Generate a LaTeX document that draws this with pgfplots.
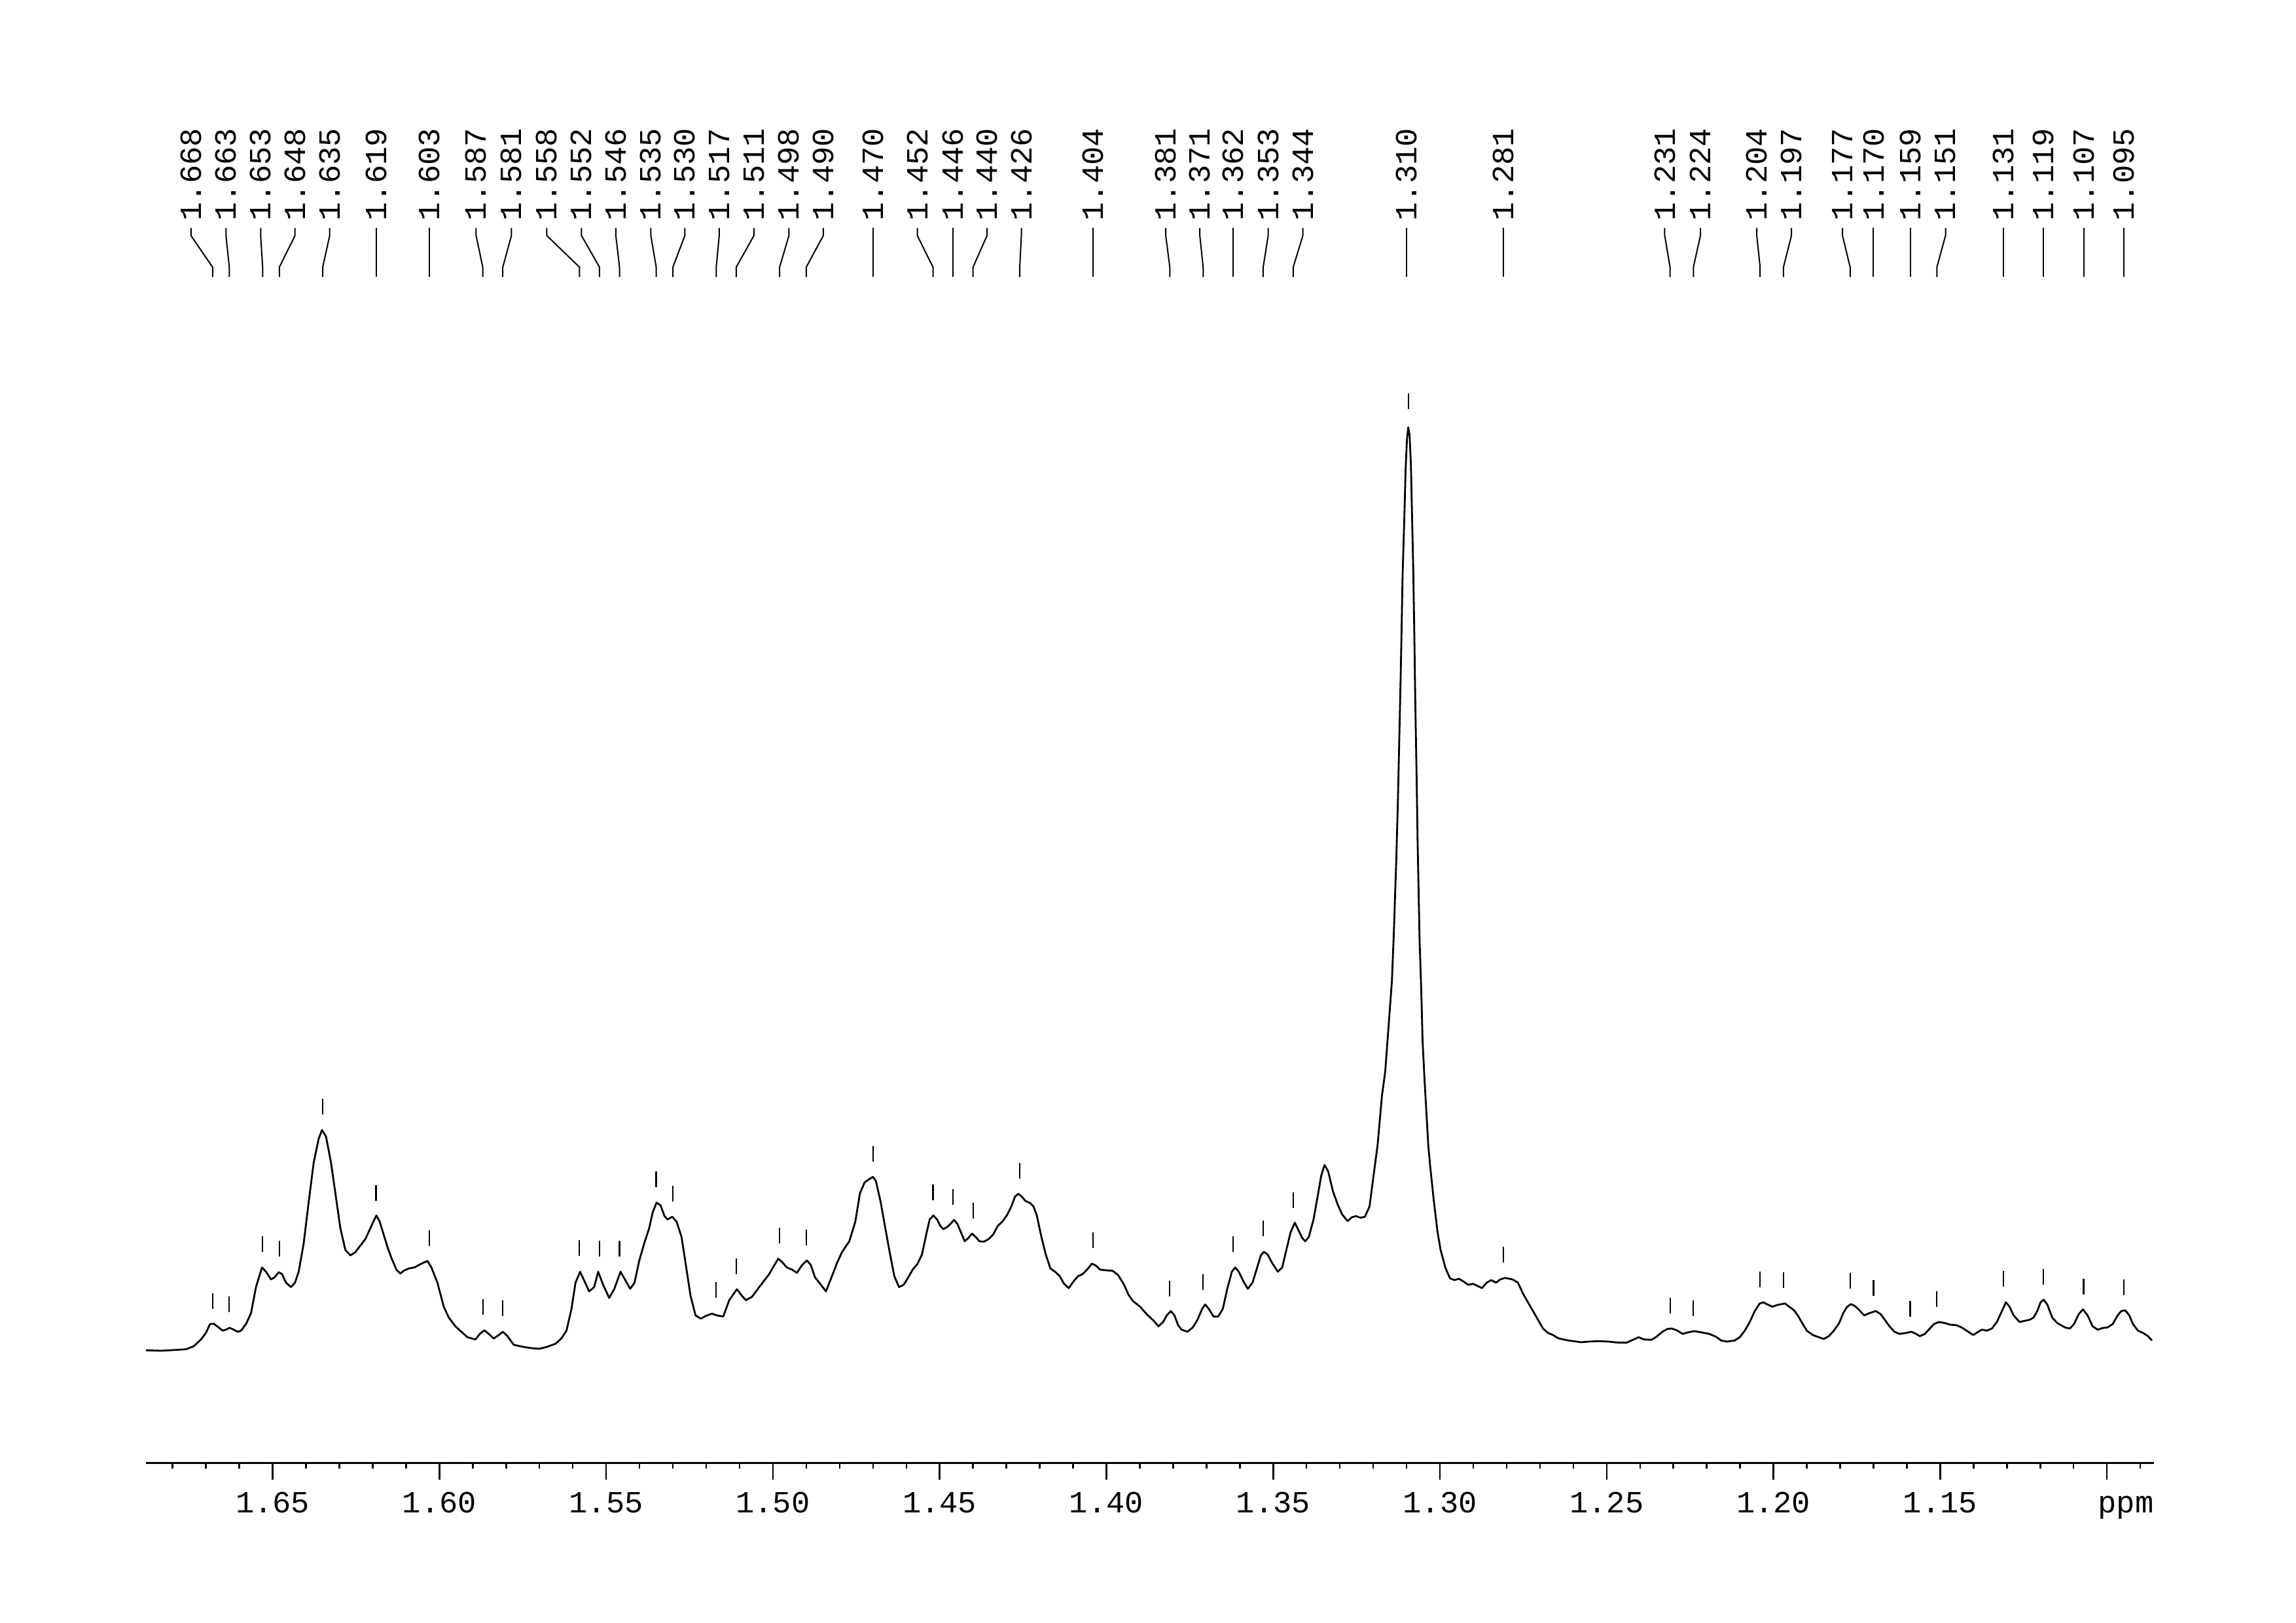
\documentclass[border=0pt]{standalone}
\usepackage{pgfplots}
\pgfplotsset{compat=1.18}
\usepackage{fontspec}
\newfontfamily\mono{Liberation Mono}
\newcommand\lblfont{\mono\fontsize{13.4pt}{16pt}\selectfont}
\tikzset{
  lbl/.style={rotate=90, anchor=west, inner sep=0pt, font=\lblfont},
  conn/.style={black, line width=0.2mm},
}
\begin{document}
\begin{tikzpicture}
\path[use as bounding box] (0,0) rectangle (350.8mm,247.9mm);
\begin{axis}[
  at={(22.3mm,24.4mm)}, anchor=south west,
  scale only axis, width=306.8mm, height=208.5mm,
  xmin=1.0859, xmax=1.6880, ymin=0, ymax=2085,
  x dir=reverse,
  axis x line=bottom, axis y line=none,
  axis line style={-, black, line width=0.3mm},
  xtick={1.10,1.15,1.20,1.25,1.30,1.35,1.40,1.45,1.50,1.55,1.60,1.65},
  xticklabels={,1.15,1.20,1.25,1.30,1.35,1.40,1.45,1.50,1.55,1.60,1.65},
  minor xtick={1.09,1.11,1.12,1.13,1.14,1.16,1.17,1.18,1.19,1.21,1.22,1.23,1.24,1.26,1.27,1.28,1.29,1.31,1.32,1.33,1.34,1.36,1.37,1.38,1.39,1.41,1.42,1.43,1.44,1.46,1.47,1.48,1.49,1.51,1.52,1.53,1.54,1.56,1.57,1.58,1.59,1.61,1.62,1.63,1.64,1.66,1.67,1.68},
  tick align=outside,
  major tick length=2.55mm, minor tick length=0.93mm,
  tick style={black, line width=0.25mm},
  xticklabel style={font=\lblfont, anchor=base, yshift=-5.12mm},
  clip=false,
]
% spectrum
\addplot[black, line width=0.28mm, mark=none, line join=round] coordinates {
(1.6880,171.7)(1.6835,171.0)(1.6790,172.3)(1.6760,173.3)(1.6737,177.7)(1.6715,188.3)(1.6700,198.3)(1.6688,211.7)(1.6677,212.3)(1.6662,206.7)(1.6650,201.7)(1.6640,203.3)(1.6629,206.0)(1.6617,203.3)(1.6605,200.0)(1.6595,201.7)(1.6580,211.7)(1.6565,228.3)(1.6550,268.3)(1.6532,298.3)(1.6520,291.7)(1.6505,280.0)(1.6494,283.3)(1.6482,291.0)(1.6472,288.3)(1.6460,275.0)(1.6445,268.3)(1.6433,275.0)(1.6422,291.7)(1.6407,335.0)(1.6392,398.3)(1.6377,458.3)(1.6362,495.0)(1.6352,508.3)(1.6340,498.3)(1.6325,458.3)(1.6312,411.7)(1.6297,358.3)(1.6282,325.0)(1.6267,316.7)(1.6252,321.7)(1.6237,331.7)(1.6222,341.7)(1.6207,358.3)(1.6198,368.3)(1.6189,377.7)(1.6179,368.3)(1.6167,348.3)(1.6155,328.3)(1.6143,311.7)(1.6129,295.0)(1.6117,289.0)(1.6107,293.3)(1.6092,296.7)(1.6075,298.3)(1.6057,303.3)(1.6036,308.3)(1.6024,298.3)(1.6006,275.0)(1.5987,238.3)(1.5972,221.7)(1.5952,208.3)(1.5934,200.0)(1.5916,191.7)(1.5892,188.3)(1.5879,196.7)(1.5865,202.3)(1.5852,196.7)(1.5837,189.7)(1.5822,195.0)(1.5810,200.0)(1.5796,193.3)(1.5777,180.0)(1.5746,176.7)(1.5724,175.0)(1.5701,174.0)(1.5679,176.7)(1.5652,181.7)(1.5634,190.0)(1.5619,201.7)(1.5604,235.0)(1.5592,275.0)(1.5578,291.7)(1.5566,278.3)(1.5551,261.7)(1.5536,268.3)(1.5524,291.7)(1.5509,271.7)(1.5491,251.7)(1.5476,265.0)(1.5457,291.7)(1.5442,278.3)(1.5428,265.7)(1.5415,275.0)(1.5401,308.3)(1.5386,335.0)(1.5371,358.3)(1.5361,381.7)(1.5349,397.3)(1.5337,393.3)(1.5325,376.7)(1.5316,371.7)(1.5302,375.7)(1.5289,368.3)(1.5274,345.0)(1.5262,305.0)(1.5247,255.0)(1.5232,225.0)(1.5216,220.0)(1.5201,224.3)(1.5183,227.7)(1.5168,225.0)(1.5149,223.3)(1.5131,248.3)(1.5108,265.0)(1.5093,255.0)(1.5081,248.3)(1.5063,253.3)(1.5041,268.3)(1.5026,278.3)(1.5011,288.3)(1.5000,298.3)(1.4984,311.7)(1.4973,306.7)(1.4958,298.3)(1.4943,295.0)(1.4928,290.0)(1.4913,301.7)(1.4898,309.0)(1.4886,301.7)(1.4874,283.3)(1.4861,275.0)(1.4841,261.7)(1.4823,285.0)(1.4808,305.0)(1.4793,321.7)(1.4771,338.3)
(1.4753,368.3)(1.4739,411.7)(1.4725,428.3)(1.4711,433.3)(1.4700,436.7)(1.4691,430.0)(1.4677,398.3)(1.4663,358.3)(1.4650,321.7)(1.4636,285.0)(1.4622,268.3)(1.4608,271.7)(1.4594,283.3)(1.4581,295.0)(1.4567,303.3)(1.4553,318.3)(1.4539,351.7)(1.4530,371.7)(1.4519,377.7)(1.4508,371.7)(1.4498,361.7)(1.4489,356.7)(1.4478,360.0)(1.4467,365.0)(1.4457,371.0)(1.4447,365.0)(1.4436,351.7)(1.4425,338.3)(1.4414,343.3)(1.4403,350.0)(1.4392,345.0)(1.4381,338.3)(1.4367,337.7)(1.4353,341.7)(1.4340,348.3)(1.4326,361.7)(1.4312,368.3)(1.4298,378.3)(1.4285,391.7)(1.4274,406.7)(1.4264,410.7)(1.4254,406.7)(1.4243,400.0)(1.4229,396.7)(1.4219,391.7)(1.4209,378.3)(1.4195,345.0)(1.4182,318.3)(1.4168,296.7)(1.4154,291.7)(1.4140,285.0)(1.4127,273.3)(1.4113,266.7)(1.4099,276.7)(1.4085,285.0)(1.4071,288.3)(1.4058,295.0)(1.4044,304.0)(1.4033,301.7)(1.4019,295.0)(1.4003,294.0)(1.3982,293.3)(1.3965,286.7)(1.3947,271.7)(1.3934,256.7)(1.3920,246.7)(1.3899,238.3)(1.3879,226.7)(1.3858,216.7)(1.3844,208.3)(1.3830,215.0)(1.3819,225.0)(1.3807,231.7)(1.3796,225.0)(1.3785,210.0)(1.3775,203.3)(1.3757,200.0)(1.3741,206.7)(1.3727,218.3)(1.3713,235.0)(1.3704,241.7)(1.3693,235.0)(1.3679,223.3)(1.3665,223.3)(1.3651,235.0)(1.3638,265.0)(1.3624,291.7)(1.3614,298.3)(1.3603,291.7)(1.3589,276.7)(1.3576,265.7)(1.3562,275.0)(1.3548,298.3)(1.3537,316.7)(1.3528,322.3)(1.3517,318.3)(1.3503,305.0)(1.3486,291.7)(1.3473,298.3)(1.3459,328.3)(1.3448,351.7)(1.3435,366.7)(1.3424,355.0)(1.3413,343.3)(1.3404,338.3)(1.3393,345.0)(1.3379,371.7)(1.3365,411.7)(1.3356,438.3)(1.3346,455.0)(1.3335,445.0)(1.3321,415.0)(1.3307,395.0)(1.3294,380.0)(1.3277,369.0)(1.3264,375.0)(1.3252,376.7)(1.3238,374.3)(1.3225,375.7)(1.3211,391.7)(1.3200,435.0)
(1.3187,485)(1.3174,560)(1.3164,598)(1.3154,667)(1.3144,736)(1.3138,813)(1.3131,920)(1.3126,1012)(1.3122,1104)(1.3118,1195)(1.3115,1272)(1.3112,1356)(1.3107,1440)(1.3103,1517)(1.3099,1563)(1.3095,1582)(1.3091,1570)(1.3087,1524)(1.3084,1455)(1.3080,1364)(1.3077,1272)(1.3074,1165)(1.3070,1050)(1.3067,950)(1.3064,874)(1.3061,797)(1.3056,721)(1.3052,644)(1.3046,583)(1.3040,530)(1.3035,485)
(1.3029,451.7)(1.3018,398.3)(1.3007,351.7)(1.2998,325.0)(1.2984,298.3)(1.2970,281.7)(1.2956,279.0)(1.2943,281.0)(1.2929,276.7)(1.2915,271.7)(1.2901,273.3)(1.2887,270.0)(1.2874,266.7)(1.2860,275.0)(1.2846,279.0)(1.2832,275.0)(1.2819,280.0)(1.2805,282.3)
(1.2782,280.0)(1.2766,275.0)(1.2751,258.3)(1.2736,245.0)(1.2721,231.7)(1.2706,218.3)(1.2691,205.0)(1.2676,198.3)(1.2661,195.0)(1.2645,190.0)(1.2630,188.3)(1.2615,186.7)(1.2600,185.7)(1.2577,184.0)(1.2555,185.0)(1.2524,185.7)(1.2494,185.0)(1.2472,183.7)(1.2441,183.3)(1.2426,186.7)(1.2404,191.7)(1.2389,188.3)(1.2366,187.7)(1.2351,192.3)(1.2333,200.0)(1.2318,204.3)(1.2305,205.0)(1.2290,202.3)(1.2272,196.7)(1.2257,199.0)(1.2237,201.0)(1.2215,199.0)(1.2192,196.7)(1.2172,192.3)(1.2157,186.7)(1.2139,185.0)(1.2116,186.7)(1.2101,191.7)(1.2086,201.7)(1.2071,215.0)(1.2056,231.7)(1.2041,243.3)(1.2030,245.0)(1.2018,241.7)(1.2003,238.3)(1.1988,241.0)(1.1965,243.3)(1.1953,238.3)(1.1939,233.3)(1.1927,225.0)(1.1912,211.7)(1.1900,201.7)(1.1882,195.0)(1.1864,191.7)(1.1849,189.0)(1.1834,193.3)(1.1819,201.7)(1.1803,213.3)(1.1791,228.3)(1.1779,238.3)(1.1767,242.3)(1.1755,239.0)(1.1743,233.3)(1.1728,225.0)(1.1713,228.3)(1.1693,231.7)(1.1678,226.7)(1.1666,218.3)(1.1652,208.3)(1.1637,200.0)(1.1622,196.7)(1.1602,198.3)(1.1586,200.0)(1.1572,196.7)(1.1561,193.3)(1.1546,196.7)(1.1531,205.0)(1.1519,211.7)(1.1504,215.0)(1.1486,213.3)(1.1471,211.0)(1.1451,210.0)(1.1436,206.7)(1.1421,201.7)(1.1401,195.0)(1.1386,200.0)(1.1375,203.3)(1.1360,201.7)(1.1345,205.0)(1.1330,215.0)(1.1315,231.7)(1.1303,245.0)(1.1292,238.3)(1.1280,225.0)(1.1262,215.0)(1.1247,216.7)(1.1232,218.3)(1.1220,221.7)(1.1209,231.7)(1.1199,245.0)(1.1190,249.0)(1.1179,241.7)(1.1164,221.7)(1.1149,213.3)(1.1126,206.7)(1.1111,205.0)(1.1099,211.7)(1.1085,226.7)(1.1072,234.3)(1.1058,225.0)(1.1043,208.3)(1.1028,203.3)(1.1013,205.7)(1.0998,206.7)(1.0983,211.7)(1.0968,225.0)(1.0957,231.7)(1.0945,232.7)(1.0933,225.0)(1.0922,211.7)(1.0907,201.7)(1.0892,198.3)(1.0877,193.3)(1.0865,186.7)
};
% peak markers
\addplot[only marks, mark=|, mark size=1.2mm, mark options={black, line width=0.22mm}] coordinates {
(1.668,247)(1.663,242)(1.653,333.7)(1.648,327)(1.635,544.3)(1.619,412)(1.603,343)(1.587,238)(1.581,236)(1.558,328.3)(1.552,327)(1.546,327)(1.535,433)(1.530,411.3)(1.517,263.7)(1.511,300.3)(1.498,347)(1.490,344.3)(1.470,472)(1.452,413)(1.446,406.3)(1.440,385.3)(1.426,446.3)(1.404,340.3)(1.381,266.3)(1.371,276.3)(1.362,334.3)(1.353,357.7)(1.344,401.3)(1.3095,1622)(1.281,317.7)(1.231,240.3)(1.224,236.3)(1.204,280.3)(1.197,279.3)(1.177,278.3)(1.170,267)(1.159,235.3)(1.151,250.3)(1.131,281)(1.119,284.3)(1.107,269.3)(1.095,268.3)
};
% peak labels with connectors
\foreach \v/\l in {1.668/1.6745,1.663/1.6640,1.653/1.6536,1.648/1.6433,1.635/1.6329,1.619/1.619,1.603/1.603,1.587/1.5890,1.581/1.5784,1.558/1.5678,1.552/1.5574,1.546/1.5471,1.535/1.5366,1.530/1.5264,1.517/1.5161,1.511/1.5057,1.498/1.4952,1.490/1.4849,1.470/1.470,1.452/1.4567,1.446/1.4460,1.440/1.4358,1.426/1.4255,1.404/1.404,1.381/1.3822,1.371/1.3720,1.362/1.362,1.353/1.3515,1.344/1.3411,1.310/1.310,1.281/1.281,1.231/1.2326,1.224/1.2219,1.204/1.2050,1.197/1.1946,1.177/1.1793,1.170/1.170,1.159/1.159,1.151/1.1484,1.131/1.131,1.119/1.119,1.107/1.107,1.095/1.095}{
  \edef\tmp{\noexpand\draw[conn] (axis cs:\l,1886.7) -- (axis cs:\l,1875) -- (axis cs:\v,1826.7) -- (axis cs:\v,1811.7);
    \noexpand\node[lbl] at (axis cs:\l,1897) {\v};}
  \tmp
}
\node[anchor=base east, inner sep=0pt, yshift=-7.67mm, font=\lblfont] at (axis cs:1.0859,0) {ppm};
\end{axis}
\end{tikzpicture}
\end{document}
